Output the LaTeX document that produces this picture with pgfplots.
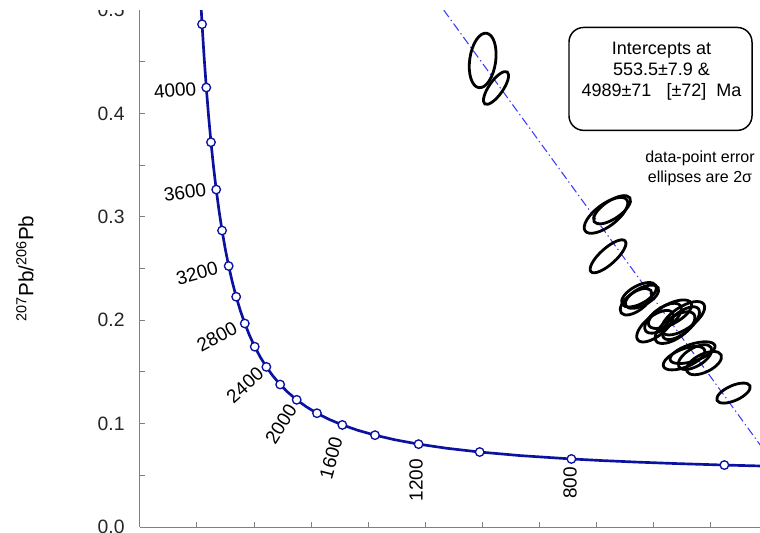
\documentclass[border=0pt]{standalone}
\usepackage{fontspec}
\setmainfont{Liberation Sans}
\usepackage{pgfplots}
\pgfplotsset{compat=1.18}
\definecolor{cblue}{RGB}{12,18,160}
\definecolor{dblue}{RGB}{60,60,250}
\definecolor{axgray}{RGB}{128,128,128}
\newcommand\agefont{\fontsize{14.25}{16}\selectfont}
\def\eax{1}\def\eay{0}\def\ebx{0}\def\eby{1}
\tikzset{ell/.code args={#1/#2/#3/#4}{\def\eax{#1}\def\eay{#2}\def\ebx{#3}\def\eby{#4}}}
\pgfdeclareplotmark{errell}{%
  \pgfpathellipse{\pgfpointorigin}{\pgfqpoint{\eax pt}{\eay pt}}{\pgfqpoint{\ebx pt}{\eby pt}}%
  \pgfusepathqstroke}
\pgfplotsset{ellipse/.style={only marks, mark=errell, black, line width=2.1pt, mark options={ell=#1}}}

\pgfplotstableread{
x y
1.02154 0.55713
1.05434 0.52038
1.08877 0.48623
1.12494 0.45450
1.16298 0.42501
1.20304 0.39759
1.24527 0.37210
1.28984 0.34840
1.33697 0.32635
1.38686 0.30583
1.43975 0.28674
1.49593 0.26896
1.55570 0.25242
1.61941 0.23701
1.68745 0.22266
1.76030 0.20929
1.83837 0.19682
1.92236 0.18520
2.01291 0.17437
2.11080 0.16426
2.21696 0.15483
2.33245 0.14603
2.45857 0.13782
2.59681 0.13015
2.74902 0.12299
2.91737 0.11629
3.10458 0.11003
3.31395 0.10418
3.54966 0.09871
3.81697 0.09360
4.12266 0.08881
4.47557 0.08432
4.88751 0.08012
5.37458 0.07619
5.95933 0.07250
6.67432 0.06904
7.56836 0.06580
8.10491 0.06425
8.71817 0.06276
9.42643 0.06131
10.25178 0.05990
11.22788 0.05854
}\concordia

\pgfplotstableread{
x y
1.08877 0.48623
1.16298 0.42501
1.24527 0.37210
1.33697 0.32635
1.43975 0.28674
1.55570 0.25242
1.68745 0.22266
1.83837 0.19682
2.01291 0.17437
2.21696 0.15483
2.45857 0.13782
2.74902 0.12299
3.10458 0.11003
3.54966 0.09871
4.12266 0.08881
4.88751 0.08012
5.95933 0.07250
7.56836 0.06580
10.25178 0.05990
}\agemarks

\begin{document}
\begin{tikzpicture}
\begin{axis}[
  scale only axis, width=465pt, height=387.75pt,
  xmin=0, xmax=10.877, ymin=0, ymax=0.5,
  axis x line*=bottom, axis y line*=left,
  axis line style={axgray, line width=0.75pt},
  tick style={axgray, line width=0.75pt},
  tick align=inside,
  major tick length=3.5pt, minor tick length=3.5pt,
  xtick={1,2,...,10}, xticklabels={},
  ytick={0,0.1,0.2,0.3,0.4,0.5},
  minor ytick={0.05,0.15,0.25,0.35,0.45},
  yticklabel style={font=\fontsize{14.5}{17}\selectfont, text=black!85, xshift=-8pt,
    /pgf/number format/.cd, fixed, fixed zerofill, precision=1, assume math mode=true},
  ylabel={\textsuperscript{207}Pb/\textsuperscript{206}Pb},
  every axis y label/.style={at={(axis description cs:-0.1855,0.5)}, rotate=90, anchor=center,
    font=\fontsize{15.5}{18}\selectfont},
]
% discordia
\addplot[dblue, line width=0.8pt, dash pattern=on 6.5pt off 2.5pt on 1pt off 2.5pt] coordinates {(0.85598,0.83875) (11.15374,0.058633)};
% concordia
\addplot[cblue, line width=2pt, no marks] table {\concordia};
\addplot[only marks, mark=*, mark size=3.2pt, mark options={fill=white, draw=cblue, line width=1pt}] table {\agemarks};
% data-point error ellipses (centre; semi-axis vectors in pt)
\addplot[ellipse=2.871/20.425/-9.655/1.357] coordinates {(6.012,0.4512)};
\addplot[ellipse=8.389/11.981/-4.301/3.011] coordinates {(6.246,0.4246)};
\addplot[ellipse=15.573/11.735/-4.965/6.588] coordinates {(8.175,0.3014)};
\addplot[ellipse=13.368/9.017/-3.775/5.596] coordinates {(8.281,0.3068)};
\addplot[ellipse=12.818/11.542/-4.015/4.459] coordinates {(8.211,0.2618)};
\addplot[ellipse=12.660/7.017/-3.272/5.904] coordinates {(8.754,0.2246)};
\addplot[ellipse=11.140/8.395/-4.062/5.391] coordinates {(8.702,0.2179)};
\addplot[ellipse=12.135/6.727/-3.091/5.576] coordinates {(8.807,0.2227)};
\addplot[ellipse=12.895/10.294/-4.679/5.861] coordinates {(9.035,0.1942)};
\addplot[ellipse=12.984/9.434/-4.409/6.068] coordinates {(9.175,0.2019)};
\addplot[ellipse=15.826/8.416/-3.521/6.622] coordinates {(9.298,0.2058)};
\addplot[ellipse=15.606/10.527/-4.613/6.839] coordinates {(9.526,0.2019)};
\addplot[ellipse=14.254/9.981/-4.517/6.451] coordinates {(9.386,0.1928)};
\addplot[ellipse=12.984/10.895/-4.821/5.745] coordinates {(9.491,0.1971)};
\addplot[ellipse=15.368/6.209/-2.529/6.259] coordinates {(9.544,0.1633)};
\addplot[ellipse=16.763/5.446/-1.970/6.063] coordinates {(9.693,0.1686)};
\addplot[ellipse=12.808/6.247/-2.959/6.067] coordinates {(9.895,0.1585)};
\addplot[ellipse=12.087/7.262/-3.476/5.786] coordinates {(9.737,0.1643)};
\addplot[ellipse=12.332/5.490/-2.288/5.139] coordinates {(10.412,0.1295)};
% age labels
\node[rotate=5, font=\agefont] at (axis cs:0.614,0.4222) {4000};
\node[rotate=8, font=\agefont] at (axis cs:0.789,0.3237) {3600};
\node[rotate=15, font=\agefont] at (axis cs:1.0,0.2454) {3200};
\node[rotate=28, font=\agefont] at (axis cs:1.351,0.1836) {2800};
\node[rotate=42, font=\agefont] at (axis cs:1.842,0.1372) {2400};
\node[rotate=58, font=\agefont] at (axis cs:2.474,0.0995) {2000};
\node[rotate=75, font=\agefont] at (axis cs:3.351,0.0667) {1600};
\node[rotate=90, font=\agefont] at (axis cs:4.842,0.0454) {1200};
\node[rotate=90, font=\agefont] at (axis cs:7.544,0.0425) {800};
% intercept box
\draw[black, line width=1.1pt, rounded corners=11pt] (axis cs:7.526,0.3836) rectangle (axis cs:10.737,0.4831);
\node[align=center, font=\fontsize{13.5}{16}\selectfont] at (axis cs:9.149,0.4409)
  {Intercepts at\\553.5±7.9 \&\\4989±71\ \ \ [±72]\ \ Ma};
\node[align=center, font=\fontsize{12}{15}\selectfont] at (axis cs:9.825,0.3469)
  {data-point error\\ellipses are 2σ};
\end{axis}
% the reference is cropped at the top of the plot area
\fill[white] ([shift={(-106pt,0pt)}]current axis.north west) rectangle ([shift={(1pt,9pt)}]current axis.north east);
\pgfresetboundingbox
\path[use as bounding box] ([shift={(-105pt,-3.75pt)}]current axis.south west) rectangle ([shift={(0pt,7.5pt)}]current axis.north east);
\end{tikzpicture}
\end{document}
